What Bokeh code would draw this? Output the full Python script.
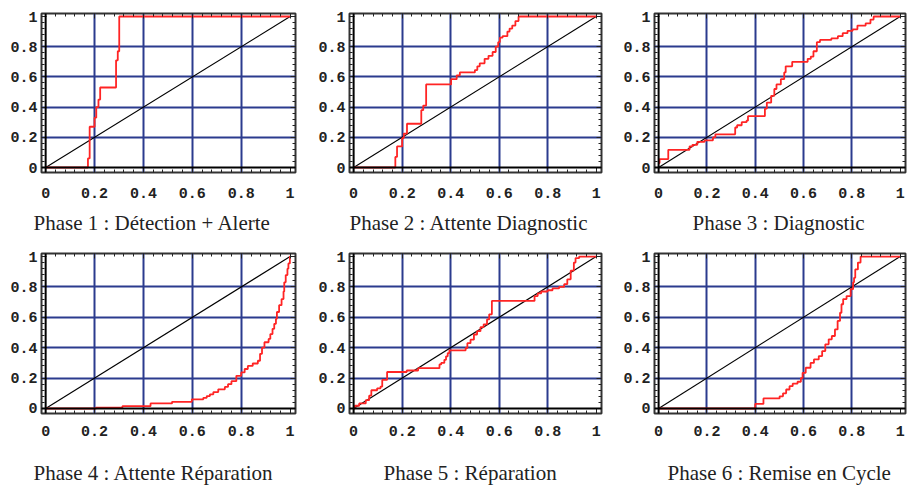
import numpy as np
from bokeh.plotting import figure
from bokeh.models import (Range1d, FixedTicker, Span, Label, LinearAxis,
                          CustomLabelingPolicy)
from bokeh.layouts import row, column
from bokeh.embed import file_html
from bokeh.resources import INLINE

titles = [
    "Phase 1 : Détection + Alerte",
    "Phase 2 : Attente Diagnostic",
    "Phase 3 : Diagnostic",
    "Phase 4 : Attente Réparation",
    "Phase 5 : Réparation",
    "Phase 6 : Remise en Cycle",
]

tick_values = [0, 0.2, 0.4, 0.6, 0.8, 1]
tick_labels = ["0", "0.2", "0.4", "0.6", "0.8", "1"]
grid_values = [0.2, 0.4, 0.6, 0.8]

diag_x = [0, 1]
diag_y = [0, 1]

x1 = [0, 0.173, 0.180, 0.200, 0.207, 0.216, 0.223, 0.288, 0.295, 0.301, 1.0]
y1 = [0, 0.06, 0.27, 0.33, 0.40, 0.45, 0.53, 0.71, 0.77, 1.0, 1.0]

x2 = [0, 0.172, 0.179, 0.200, 0.207, 0.220, 0.279, 0.287, 0.299, 0.402,
      0.425, 0.438, 0.500, 0.510, 0.520, 0.540, 0.556, 0.573, 0.586, 0.596,
      0.603, 0.614, 0.634, 0.643, 0.654, 0.667, 0.680, 1.0]
y2 = [0, 0.07, 0.14, 0.195, 0.225, 0.29, 0.38, 0.41, 0.55, 0.585,
      0.61, 0.63, 0.645, 0.67, 0.69, 0.72, 0.74, 0.765, 0.80, 0.83,
      0.86, 0.87, 0.90, 0.92, 0.94, 0.97, 1.0, 1.0]

x3 = [0, 0.004, 0.04, 0.128, 0.14, 0.16, 0.19, 0.225, 0.235, 0.317,
      0.325, 0.344, 0.364, 0.37, 0.44, 0.448, 0.466, 0.479, 0.488, 0.506,
      0.52, 0.526, 0.553, 0.617, 0.63, 0.641, 0.655, 0.668, 0.715, 0.742,
      0.762, 0.782, 0.803, 0.823, 0.857, 0.877, 0.89, 1.0]
y3 = [0.03, 0.056, 0.117, 0.14, 0.15, 0.17, 0.18, 0.20, 0.22, 0.265,
      0.28, 0.30, 0.31, 0.34, 0.39, 0.43, 0.475, 0.52, 0.55, 0.585,
      0.63, 0.67, 0.70, 0.72, 0.735, 0.77, 0.83, 0.845, 0.855, 0.87,
      0.89, 0.905, 0.915, 0.94, 0.955, 0.98, 1.0, 1.0]

x4 = [0, 0.206, 0.314, 0.429, 0.517, 0.598, 0.645, 0.659, 0.672, 0.686,
      0.706, 0.733, 0.746, 0.760, 0.780, 0.800, 0.814, 0.827, 0.847, 0.868,
      0.877, 0.885, 0.895, 0.912, 0.919, 0.928, 0.935, 0.942, 0.946, 0.955,
      0.965, 0.973, 0.976, 0.982, 0.989, 0.993, 0.999, 1.0]
y4 = [0, 0.006, 0.015, 0.033, 0.044, 0.06, 0.07, 0.082, 0.093, 0.108,
      0.126, 0.142, 0.16, 0.18, 0.215, 0.237, 0.26, 0.28, 0.296, 0.314,
      0.36, 0.40, 0.436, 0.458, 0.49, 0.524, 0.557, 0.59, 0.635, 0.68,
      0.72, 0.77, 0.83, 0.878, 0.92, 0.955, 1.0, 1.0]

x5 = [0, 0.005, 0.023, 0.05, 0.064, 0.073, 0.097, 0.111, 0.118, 0.138,
      0.219, 0.266, 0.354, 0.361, 0.374, 0.381, 0.388, 0.395,
      0.462, 0.469, 0.482, 0.496, 0.509, 0.523, 0.536, 0.55, 0.559, 0.57,
      0.746, 0.759, 0.773, 0.80, 0.82, 0.847, 0.868, 0.881, 0.895, 0.908, 0.915, 0.93, 1.0]
y5 = [0, 0.018, 0.033, 0.055, 0.084, 0.12, 0.133, 0.144, 0.188, 0.24,
      0.25, 0.265, 0.29, 0.30, 0.32, 0.343, 0.365, 0.383,
      0.398, 0.43, 0.453, 0.487, 0.509, 0.535, 0.553, 0.586, 0.62, 0.708,
      0.74, 0.757, 0.77, 0.778, 0.79, 0.80, 0.818, 0.85, 0.907, 0.96, 0.99, 1.0, 1.0]

x6 = [0, 0.40, 0.434, 0.501, 0.515, 0.528, 0.542, 0.555, 0.575, 0.589,
      0.596, 0.609, 0.629, 0.643, 0.663, 0.677, 0.69, 0.704, 0.717, 0.73,
      0.741, 0.751, 0.757, 0.764, 0.778, 0.795, 0.805, 0.809, 0.814, 0.825, 0.836, 1.0]
y6 = [0, 0.03, 0.066, 0.08, 0.10, 0.125, 0.147, 0.163, 0.176, 0.20,
      0.235, 0.268, 0.30, 0.323, 0.345, 0.378, 0.422, 0.455, 0.477, 0.52,
      0.576, 0.63, 0.686, 0.72, 0.74, 0.785, 0.83, 0.86, 0.915, 0.96, 1.0, 1.0]

series = [(x1, y1), (x2, y2), (x3, y3), (x4, y4), (x5, y5), (x6, y6)]

# layout (pixels); the page template has no body margin
col_w = [300, 306, 304]
col_bl = [41, 49, 48]
col_br = [5, 3, 2]
plot_h = [204, 202]
row_bt = [13, 10]
row_bb = [32, 32]
cap_h = [39, 41]
cap_x = [[33, 49, 86], [33, 83, 61]]   # caption left edge within its column
cap_y = [21, 14]                         # caption anchor above strip bottom
xlabel_standoff = [15, 12]

GRID = "#2b3b8e"
RED = "#ff2424"
INK = "#222222"

minor = [round(v, 3) for v in np.arange(0, 1.0001, 0.04)]


def style_axis(ax, show_labels=True):
    ax.ticker = FixedTicker(ticks=tick_values, minor_ticks=minor)
    ax.major_label_overrides = dict(zip(tick_values, tick_labels))
    ax.axis_line_color = None
    ax.major_tick_in = 5
    ax.major_tick_out = 0
    ax.minor_tick_in = 3
    ax.minor_tick_out = 0
    ax.major_tick_line_color = INK
    ax.minor_tick_line_color = INK
    ax.major_tick_line_width = 1
    ax.minor_tick_line_width = 1
    ax.major_label_text_font = "Liberation Mono"
    ax.major_label_text_font_style = "bold"
    ax.major_label_text_color = INK
    if show_labels:
        ax.major_label_text_font_size = "15px"
        ax.major_label_standoff = 8
    else:
        ax.major_label_text_font_size = "1px"
        ax.major_label_standoff = 0
        ax.major_label_policy = CustomLabelingPolicy(
            code="for (const i of Array.from(indices)) { indices.unset(i) } return indices")


def make_panel(k):
    r, c = divmod(k, 3)
    p = figure(width=col_w[c], height=plot_h[r],
               x_range=Range1d(-0.017, 1.022), y_range=Range1d(-0.033, 1.02),
               output_backend="svg", toolbar_location=None, tools="")
    p.min_border_left = col_bl[c]
    p.min_border_right = col_br[c]
    p.min_border_top = row_bt[r]
    p.min_border_bottom = row_bb[r]
    p.background_fill_color = "white"
    p.border_fill_color = "white"
    p.outline_line_color = "#333333"
    p.outline_line_width = 2

    style_axis(p.xaxis[0])
    style_axis(p.yaxis[0])
    p.xaxis[0].major_label_standoff = xlabel_standoff[r]
    p.yaxis[0].major_label_standoff = 4
    top_ax = LinearAxis()
    right_ax = LinearAxis()
    style_axis(top_ax, show_labels=False)
    style_axis(right_ax, show_labels=False)
    p.add_layout(top_ax, "above")
    p.add_layout(right_ax, "right")

    for g in (p.xgrid[0], p.ygrid[0]):
        g.ticker = FixedTicker(ticks=grid_values)
        g.grid_line_color = GRID
        g.grid_line_width = 2

    p.add_layout(Span(location=0, dimension="width", line_color="black", line_width=2))
    p.add_layout(Span(location=0, dimension="height", line_color="black", line_width=2))

    p.line(diag_x, diag_y, line_color="black", line_width=1.1)
    xs, ys = series[k]
    p.step(xs, ys, mode="after", line_color=RED, line_width=1.8)
    return p


def make_caption(k):
    r, c = divmod(k, 3)
    w, h = col_w[c], cap_h[r]
    q = figure(width=w, height=h, x_range=Range1d(0, w), y_range=Range1d(0, h),
               x_axis_type=None, y_axis_type=None,
               output_backend="svg", toolbar_location=None, tools="",
               min_border=0)
    q.outline_line_color = None
    q.background_fill_color = "white"
    q.border_fill_color = "white"
    q.xgrid.visible = False
    q.ygrid.visible = False
    q.add_layout(Label(x=cap_x[r][c], y=cap_y[r], text=titles[k],
                       text_align="left", text_baseline="alphabetic",
                       text_font="Liberation Serif", text_font_size="21px",
                       text_color=INK))
    return q


panels = [make_panel(k) for k in range(6)]
caps = [make_caption(k) for k in range(6)]
layout = column(row(*panels[:3]), row(*caps[:3]),
                row(*panels[3:]), row(*caps[3:]))

open("out.html", "w").write(file_html(layout, INLINE))
